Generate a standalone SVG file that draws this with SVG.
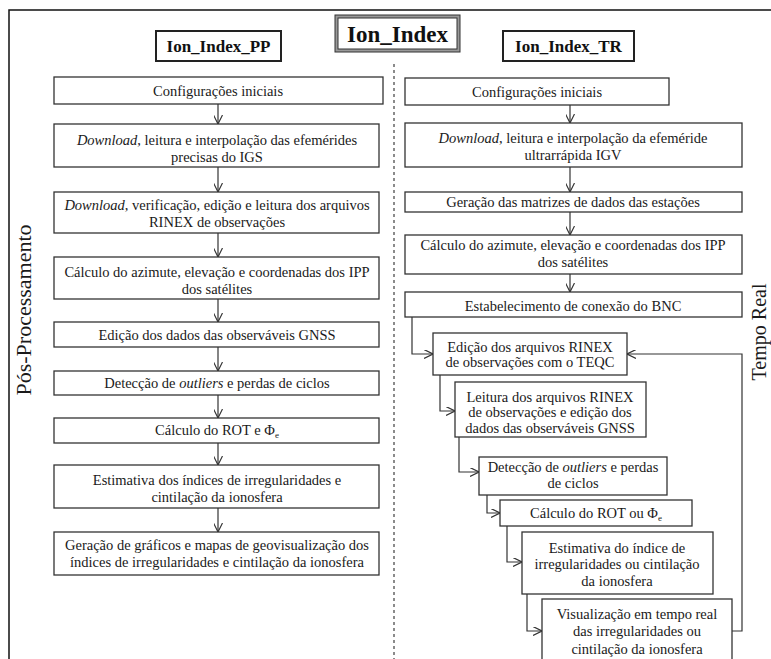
<svg xmlns="http://www.w3.org/2000/svg" width="771" height="659" viewBox="0 0 771 659" xml:space="preserve">
<style>
text{font-family:"Liberation Serif","Times New Roman",serif;fill:#1a1a1a}
.t{font-size:14.5px;text-anchor:middle}
.box{fill:#fff;stroke:#333;stroke-width:1.3}
.c{fill:none;stroke:#333;stroke-width:1.2}
.hdr{font-weight:bold;font-size:17px;text-anchor:middle;fill:#111}
.side{font-size:22px;text-anchor:middle}
</style>
<defs>
<marker id="ah" viewBox="0 0 10 10" refX="10" refY="5" markerWidth="9" markerHeight="9" markerUnits="userSpaceOnUse" orient="auto">
<path d="M0,0 L10,5 L0,10" fill="none" stroke="#333" stroke-width="1.3"/>
</marker>
</defs>
<rect width="771" height="659" fill="#fff"/>
<path d="M9,659 L9,10 L771,10" fill="none" stroke="#111" stroke-width="1.5"/>
<line x1="394" y1="64" x2="394" y2="659" stroke="#666" stroke-width="1.5" stroke-dasharray="3,3"/>

<g id="ion_index">
<rect x="335" y="15" width="125" height="37" fill="#999" stroke="#333" stroke-width="1"/>
<rect x="338" y="18" width="119" height="31" fill="#fff" stroke="#333" stroke-width="1"/>
<text x="397.5" y="42" style="font-weight:bold;font-size:23px;text-anchor:middle;fill:#111">Ion_Index</text>
</g>
<g id="ion_index_pp">
<rect x="156" y="31" width="125" height="30" fill="#fff" stroke="#222" stroke-width="2"/>
<text class="hdr" x="218.5" y="52">Ion_Index_PP</text>
</g>
<g id="ion_index_tr">
<rect x="503" y="31" width="131" height="30" fill="#fff" stroke="#222" stroke-width="2"/>
<text class="hdr" x="568.5" y="52">Ion_Index_TR</text>
</g>

<g id="label_pp"><text class="side" transform="translate(31,310) rotate(-90)">Pós-Processamento</text></g>
<g id="label_tr"><text class="side" style="font-size:20px" transform="translate(766,332) rotate(-90)">Tempo Real</text></g>

<g id="connectors">
<line class="c" x1="218" y1="104" x2="218" y2="124" marker-end="url(#ah)"/>
<line class="c" x1="218" y1="167" x2="218" y2="192" marker-end="url(#ah)"/>
<line class="c" x1="218" y1="233" x2="218" y2="257" marker-end="url(#ah)"/>
<line class="c" x1="218" y1="299" x2="218" y2="322" marker-end="url(#ah)"/>
<line class="c" x1="218" y1="347" x2="218" y2="371" marker-end="url(#ah)"/>
<line class="c" x1="218" y1="395" x2="218" y2="418" marker-end="url(#ah)"/>
<line class="c" x1="218" y1="443" x2="218" y2="465" marker-end="url(#ah)"/>
<line class="c" x1="218" y1="508" x2="218" y2="532" marker-end="url(#ah)"/>
<line class="c" x1="570" y1="105" x2="570" y2="123" marker-end="url(#ah)"/>
<line class="c" x1="570" y1="167" x2="570" y2="192" marker-end="url(#ah)"/>
<line class="c" x1="570" y1="212" x2="570" y2="235" marker-end="url(#ah)"/>
<line class="c" x1="570" y1="274" x2="570" y2="292" marker-end="url(#ah)"/>
<path class="c" d="M412,317 V354 H433" marker-end="url(#ah)"/>
<path class="c" d="M440,375 V411 H455" marker-end="url(#ah)"/>
<path class="c" d="M459,437 V472 H479" marker-end="url(#ah)"/>
<path class="c" d="M487,495 V513 H500" marker-end="url(#ah)"/>
<path class="c" d="M507,526 V562 H522" marker-end="url(#ah)"/>
<path class="c" d="M527,594 V631 H542" marker-end="url(#ah)"/>
<path class="c" d="M732,631 H742 V354 H627" marker-end="url(#ah)"/>
</g>

<g id="pp1"><rect class="box" x="54" y="77" width="329" height="27"/><text class="t" x="218" y="96">Configurações  iniciais</text></g>
<g id="pp2"><rect class="box" x="54" y="124" width="325" height="43"/><text class="t" x="217" y="145"><tspan font-style="italic">Download</tspan>, leitura e interpolação  das efemérides</text><text class="t" x="217" y="162">precisas do IGS</text></g>
<g id="pp3"><rect class="box" x="54" y="192" width="325" height="41"/><text class="t" x="217" y="210"><tspan font-style="italic">Download</tspan>, verificação,  edição e leitura dos arquivos</text><text class="t" x="217" y="227">RINEX de observações</text></g>
<g id="pp4"><rect class="box" x="54" y="257" width="325" height="42"/><text class="t" x="217" y="277">Cálculo do azimute, elevação e coordenadas  dos IPP</text><text class="t" x="217" y="294">dos satélites</text></g>
<g id="pp5"><rect class="box" x="54" y="322" width="325" height="25"/><text class="t" x="217" y="340">Edição dos dados das observáveis GNSS</text></g>
<g id="pp6"><rect class="box" x="54" y="371" width="325" height="24"/><text class="t" x="217" y="388">Detecção de <tspan font-style="italic">outliers</tspan> e perdas de ciclos</text></g>
<g id="pp7"><rect class="box" x="54" y="418" width="325" height="25"/><text class="t" x="217" y="435">Cálculo do ROT e Φ<tspan font-size="9" dy="3">e</tspan></text></g>
<g id="pp8"><rect class="box" x="54" y="465" width="325" height="43"/><text class="t" x="217" y="485">Estimativa dos índices de irregularidades  e</text><text class="t" x="217" y="502">cintilação  da ionosfera</text></g>
<g id="pp9"><rect class="box" x="54" y="532" width="325" height="43"/><text class="t" x="217" y="550">Geração  de gráficos  e mapas de geovisualização  dos</text><text class="t" x="217" y="567">índices de irregularidades  e cintilação  da ionosfera</text></g>

<g id="tr1"><rect class="box" x="405" y="78" width="264" height="27"/><text class="t" x="537" y="97">Configurações  iniciais</text></g>
<g id="tr2"><rect class="box" x="405" y="123" width="337" height="44"/><text class="t" x="573" y="143"><tspan font-style="italic">Download</tspan>, leitura e interpolação  da efeméride</text><text class="t" x="573" y="160">ultrarrápida  IGV</text></g>
<g id="tr3"><rect class="box" x="405" y="192" width="337" height="20"/><text class="t" x="573" y="207">Geração  das matrizes de dados das estações</text></g>
<g id="tr4"><rect class="box" x="405" y="235" width="337" height="39"/><text class="t" x="573" y="250">Cálculo do azimute, elevação e coordenadas  dos IPP</text><text class="t" x="573" y="267">dos satélites</text></g>
<g id="tr5"><rect class="box" x="405" y="292" width="337" height="25"/><text class="t" x="573" y="311">Estabelecimento  de conexão  do BNC</text></g>
<g id="tr6"><rect class="box" x="433" y="333" width="194" height="42"/><text class="t" x="530" y="352">Edição dos arquivos RINEX</text><text class="t" x="530" y="367">de observações  com o TEQC</text></g>
<g id="tr7"><rect class="box" x="455" y="382" width="191" height="55"/><text class="t" x="550" y="402">Leitura dos arquivos RINEX</text><text class="t" x="550" y="417">de observações  e edição dos</text><text class="t" x="550" y="433">dados das observáveis GNSS</text></g>
<g id="tr8"><rect class="box" x="479" y="457" width="188" height="38"/><text class="t" x="573" y="472">Detecção de <tspan font-style="italic">outliers</tspan> e perdas</text><text class="t" x="573" y="488">de ciclos</text></g>
<g id="tr9"><rect class="box" x="500" y="500" width="192" height="26"/><text class="t" x="596" y="518">Cálculo do ROT ou Φ<tspan font-size="9" dy="3">e</tspan></text></g>
<g id="tr10"><rect class="box" x="522" y="532" width="191" height="62"/><text class="t" x="617" y="553">Estimativa do índice de</text><text class="t" x="617" y="569">irregularidades  ou cintilação</text><text class="t" x="617" y="586">da ionosfera</text></g>
<g id="tr11"><rect class="box" x="542" y="599" width="190" height="70"/><text class="t" x="637" y="619">Visualização  em tempo real</text><text class="t" x="637" y="636">das irregularidades  ou</text><text class="t" x="637" y="654">cintilação  da ionosfera</text></g>
</svg>
